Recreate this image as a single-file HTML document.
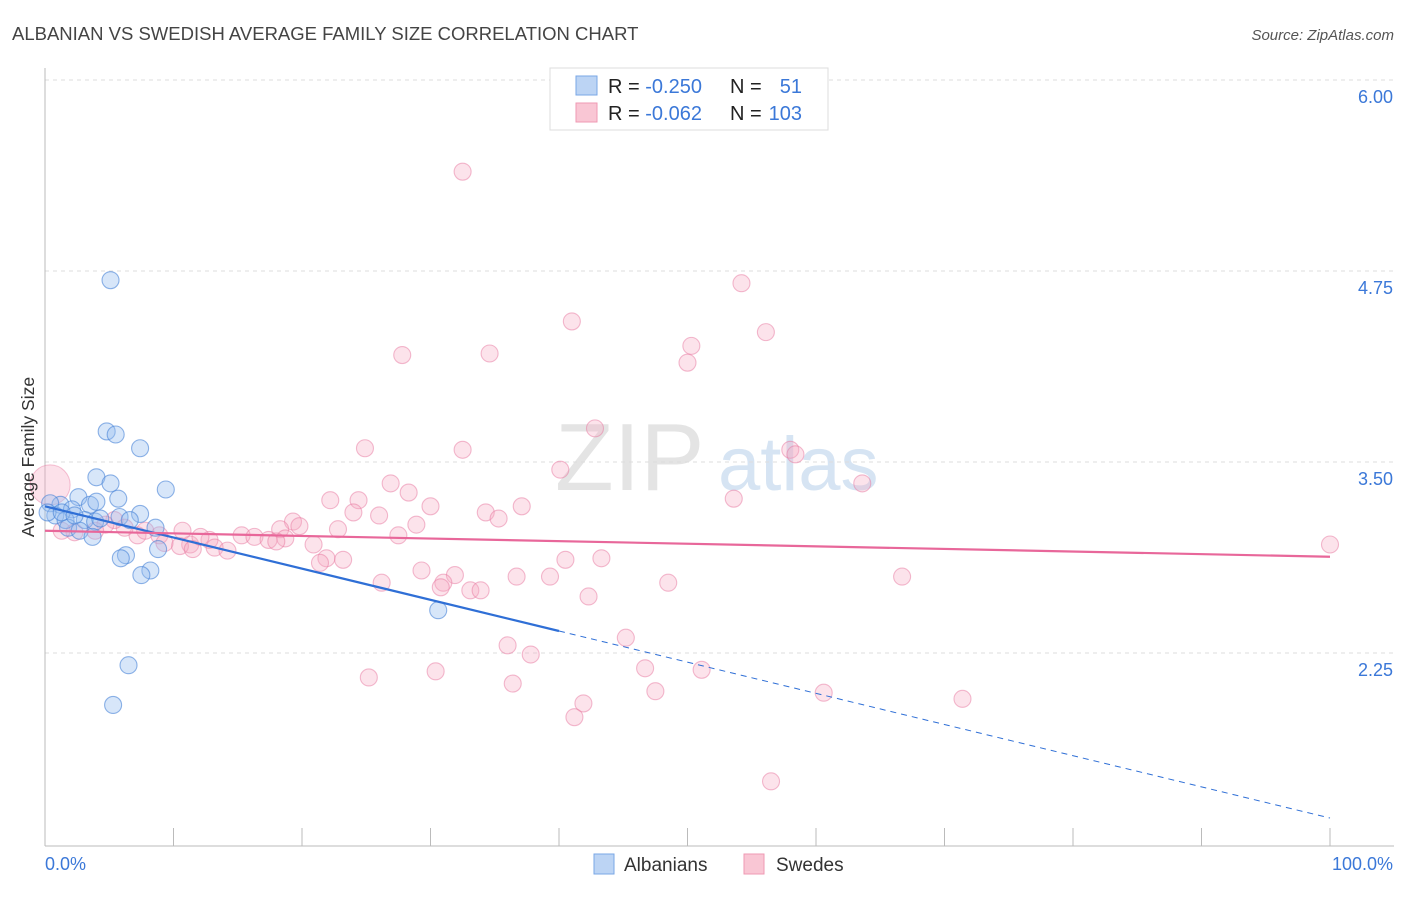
<!DOCTYPE html>
<html><head><meta charset="utf-8"><style>
body{margin:0;background:#fff;font-family:"Liberation Sans",sans-serif;}
svg text{font-family:"Liberation Sans",sans-serif;}
</style></head><body>
<svg id="chart" width="1406" height="892" xmlns="http://www.w3.org/2000/svg">
<text x="12" y="40" font-size="18.5" fill="#444">ALBANIAN VS SWEDISH AVERAGE FAMILY SIZE CORRELATION CHART</text>
<text x="1394" y="40" font-size="15" fill="#555" text-anchor="end" font-style="italic">Source: ZipAtlas.com</text>
<text x="555" y="490" font-size="96" fill="#e4e4e4" font-family="Liberation Serif">ZIP</text>
<text x="718" y="490" font-size="76" fill="#d6e4f3">atlas</text>
<g id="grid"></g>
<g id="axes"></g>
<g id="pts"></g>
<g id="lines"></g>
<text transform="translate(34,457) rotate(-90)" font-size="17.5" fill="#333" text-anchor="middle">Average Family Size</text>
<text x="45" y="870" font-size="18" fill="#3b78d8">0.0%</text>
<text x="1393" y="870" font-size="18" fill="#3b78d8" text-anchor="end">100.0%</text>
<g>
<rect x="550" y="68" width="278" height="62" fill="#fff" stroke="#ddd"/>
<rect x="576" y="76" width="21" height="19" fill="#bcd4f4" stroke="#7aa7e6"/>
<rect x="576" y="103" width="21" height="19" fill="#f9c6d4" stroke="#ef99b3"/>
<text x="608" y="93" font-size="20" fill="#222">R = <tspan fill="#3b78d8">-0.250</tspan></text>
<text x="730" y="93" font-size="20" fill="#222">N = </text><text x="802" y="93" font-size="20" fill="#3b78d8" text-anchor="end">51</text>
<text x="608" y="120" font-size="20" fill="#222">R = <tspan fill="#3b78d8">-0.062</tspan></text>
<text x="730" y="120" font-size="20" fill="#222">N = </text><text x="802" y="120" font-size="20" fill="#3b78d8" text-anchor="end">103</text>
</g>
<g>
<rect x="594" y="854" width="20" height="20" fill="#bcd4f4" stroke="#7aa7e6"/>
<text x="624" y="871" font-size="19" fill="#333">Albanians</text>
<rect x="744" y="854" width="20" height="20" fill="#f9c6d4" stroke="#ef99b3"/>
<text x="776" y="871" font-size="19" fill="#333">Swedes</text>
</g>
</svg>
<script>
const yTicks=[6.00,4.75,3.50,2.25];
const yTickLabels=["6.00","4.75","3.50","2.25"];
const xTicks=[0,10,20,30,40,50,60,70,80,90,100];
const albX=[5.1,4.8,5.5,7.4,4.0,5.1,9.4,5.7,2.6,3.5,4.0,1.2,2.1,7.4,5.8,0.4,0.8,1.6,3.1,3.9,6.6,4.3,1.8,2.7,8.6,3.7,8.8,6.3,5.9,8.2,7.5,30.6,6.5,5.3,0.2,1.3,2.3];
const albY=[4.69,3.70,3.68,3.59,3.40,3.36,3.32,3.26,3.27,3.22,3.24,3.22,3.19,3.16,3.14,3.23,3.15,3.12,3.12,3.11,3.12,3.13,3.07,3.05,3.07,3.01,2.93,2.89,2.87,2.79,2.76,2.53,2.17,1.91,3.17,3.17,3.15];
const sweX=[32.5,54.2,41.0,56.1,27.8,34.6,50.3,50.0,42.8,24.9,32.5,58.0,58.4,40.1,63.6,26.9,28.3,53.6,22.2,24.4,37.1,30.0,34.3,24.0,26.0,35.3,28.9,22.8,27.5,19.3,19.8,18.3,18.7,20.9,15.3,16.3,17.4,18.0,12.8,13.2,14.2,11.3,10.5,11.5,12.1,8.9,9.3,10.7,7.2,7.8,6.2,5.4,4.7,3.9,2.3,1.3,21.9,21.4,23.2,29.3,31.9,31.0,30.8,33.1,33.9,26.2,36.7,39.3,40.5,43.3,48.5,66.7,42.3,45.2,36.0,37.8,25.2,30.4,36.4,46.7,51.1,47.5,41.9,41.2,60.6,71.4,56.5,100];
const sweY=[5.40,4.67,4.42,4.35,4.20,4.21,4.26,4.15,3.72,3.59,3.58,3.58,3.55,3.45,3.36,3.36,3.30,3.26,3.25,3.25,3.21,3.21,3.17,3.17,3.15,3.13,3.09,3.06,3.02,3.11,3.08,3.06,3.00,2.96,3.02,3.01,2.99,2.98,2.99,2.94,2.92,2.96,2.95,2.93,3.01,3.02,2.97,3.05,3.02,3.05,3.07,3.12,3.09,3.05,3.04,3.05,2.87,2.84,2.86,2.79,2.76,2.71,2.68,2.66,2.66,2.71,2.75,2.75,2.86,2.87,2.71,2.75,2.62,2.35,2.30,2.24,2.09,2.13,2.05,2.15,2.14,2.00,1.92,1.83,1.99,1.95,1.41,2.96];
const bigSwede=[0.4,3.35];
const albTrend=[3.21,1.17];
const sweTrend=[3.05,2.88];
const albSolidEnd=40;

const X=p=>45+p*12.85, Y=v=>80+(6-v)*152.8;
const NS="http://www.w3.org/2000/svg";
function mk(parent,tag,attrs){const e=document.createElementNS(NS,tag);for(const k in attrs)e.setAttribute(k,attrs[k]);document.getElementById(parent).appendChild(e);return e;}
yTicks.forEach((v,i)=>{
 const l=mk('grid','line',{x1:45,x2:1394,y1:Y(v),y2:Y(v),stroke:'#ddd','stroke-dasharray':'4,4'});
 
 
 const t=mk('grid','text',{x:1393,y:Y(v)+23,'font-size':18,fill:'#3b78d8','text-anchor':'end'});
 t.textContent=yTickLabels[i];
 
 
});
const ax=mk('axes','line',{x1:45,x2:45,y1:68,y2:846,stroke:'#bbb'});


const bx=mk('axes','line',{x1:45,x2:1394,y1:846,y2:846,stroke:'#bbb'});


xTicks.forEach(p=>{const t=mk('axes','line',{x1:X(p),x2:X(p),y1:828,y2:846,stroke:'#bbb'});
 
 });
sweX.forEach((p,i)=>{const c=mk('pts','circle',{cx:X(p),cy:Y(sweY[i]),r:8.5,fill:'rgba(246,170,195,0.33)',stroke:'rgba(232,120,160,0.5)','stroke-width':1.1});
 
 });
const bs=mk('pts','circle',{cx:X(bigSwede[0]),cy:Y(bigSwede[1]),r:20,fill:'rgba(246,170,195,0.35)',stroke:'rgba(232,120,160,0.45)'});


albX.forEach((p,i)=>{const c=mk('pts','circle',{cx:X(p),cy:Y(albY[i]),r:8.5,fill:'rgba(150,190,240,0.38)',stroke:'rgba(70,130,215,0.6)','stroke-width':1.1});
 
 });
const aAt=p=>albTrend[0]+(albTrend[1]-albTrend[0])*p/100;
const l1=mk('lines','line',{x1:X(0),y1:Y(aAt(0)),x2:X(albSolidEnd),y2:Y(aAt(albSolidEnd)),stroke:'#2f6fd6','stroke-width':2.2});


const l2=mk('lines','line',{x1:X(albSolidEnd),y1:Y(aAt(albSolidEnd)),x2:X(100),y2:Y(aAt(100)),stroke:'#2f6fd6','stroke-width':1,'stroke-dasharray':'6,5'});


const l3=mk('lines','line',{x1:X(0),y1:Y(sweTrend[0]),x2:X(100),y2:Y(sweTrend[1]),stroke:'#e8679a','stroke-width':2.2});


</script>
</body></html>
